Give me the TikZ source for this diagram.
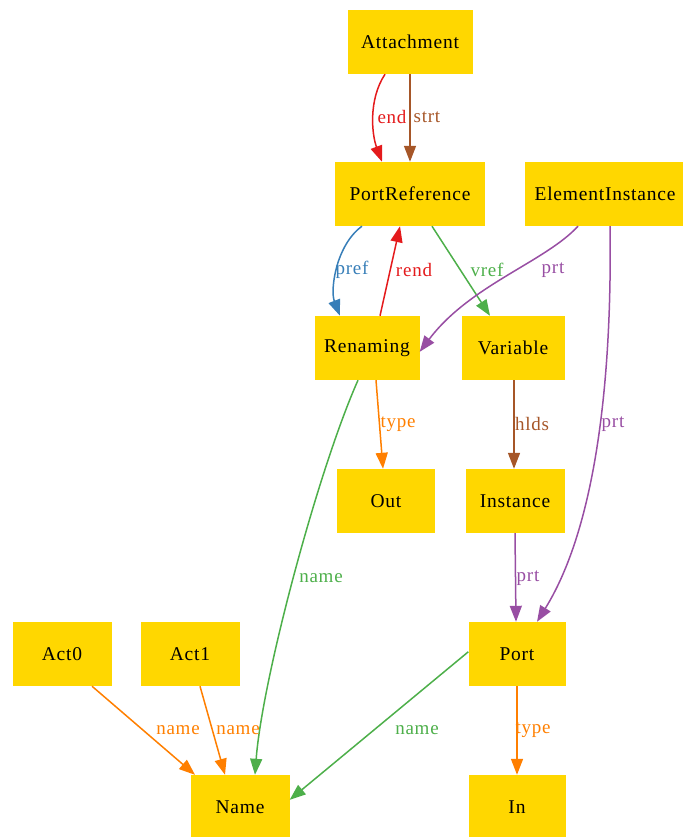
\documentclass[tikz,border=0pt]{standalone}
\usepackage{fontspec}
\setmainfont{Liberation Serif}[LetterSpace=4]
\usetikzlibrary{arrows.meta}
\definecolor{gold}{RGB}{255,215,0}
\definecolor{cred}{RGB}{228,26,28}
\definecolor{cbrown}{RGB}{166,86,40}
\definecolor{cblue}{RGB}{55,126,184}
\definecolor{cgreen}{RGB}{77,175,74}
\definecolor{cpurple}{RGB}{152,78,163}
\definecolor{corange}{RGB}{255,127,0}
\begin{document}
\begin{tikzpicture}[x=1pt,y=-1pt,
  box/.style={rectangle, fill=gold, minimum height=64pt, minimum width=100pt, inner sep=0pt, font=\fontsize{19.5}{22}\selectfont},
  lbl/.style={font=\fontsize{19}{22}\selectfont, inner sep=0pt},
  edge/.style={line width=1.5pt, -{Triangle[length=16pt,width=12pt]}}]
\useasboundingbox (0,0) rectangle (682,837);
% nodes
\node[box, minimum width=125pt] (att) at (410,42) {Attachment};
\node[box, minimum width=150pt] (pref) at (410,194) {PortReference};
\node[box, minimum width=160pt] (ei) at (605,194) {ElementInstance};
\node[box, minimum width=105pt] (ren) at (367,348) {Renaming};
\node[box, minimum width=103pt] (var) at (513,348) {Variable};
\node[box, minimum width=98pt] (out) at (386,501) {Out};
\node[box, minimum width=99pt] (inst) at (515,501) {Instance};
\node[box, minimum width=97pt] (port) at (517,654) {Port};
\node[box, minimum width=99pt] (act0) at (62,654) {Act0};
\node[box, minimum width=99pt] (act1) at (190,654) {Act1};
\node[box, minimum width=99pt] (name) at (240,807) {Name};
\node[box, minimum width=97pt] (in) at (517,807) {In};
% edges
\draw[edge, cred] ([xshift=-25pt]att.south) .. controls (368,100) and (372,135) .. ([xshift=-28pt]pref.north);
\draw[edge, cbrown] (att.south) -- (pref.north);
\draw[edge, cblue] ([xshift=-48pt]pref.south) .. controls (336,245) and (330,290) .. ([xshift=-27pt]ren.north);
\draw[edge, cred] ([xshift=13pt]ren.north) -- ([xshift=-10pt]pref.south);
\draw[edge, cgreen] ([xshift=22pt]pref.south) -- ([xshift=-23pt]var.north);
\draw[edge, cpurple] ([xshift=-27pt]ei.south) .. controls (545,262) and (470,285) .. ([yshift=-36pt]ren.north east);
\draw[edge, cpurple] ([xshift=5pt]ei.south) .. controls (612,360) and (600,520) .. ([xshift=20pt]port.north);
\draw[edge, cbrown] ([xshift=1pt]var.south) -- ([xshift=-1pt]inst.north);
\draw[edge, corange] ([xshift=9pt]ren.south) -- ([xshift=-3pt]out.north);
\draw[edge, cgreen] ([xshift=-9pt]ren.south) .. controls (318,470) and (262,680) .. ([xshift=15pt]name.north);
\draw[edge, cpurple] (inst.south) -- ([xshift=-1pt]port.north);
\draw[edge, corange] ([xshift=30pt]act0.south) -- ([xshift=-45pt]name.north);
\draw[edge, corange] ([xshift=10pt]act1.south) -- ([xshift=-15pt]name.north);
\draw[edge, cgreen] ([yshift=-30pt]port.north west) -- ([yshift=-25pt]name.north east);
\draw[edge, corange] (port.south) -- (in.north);
% labels
\node[lbl, text=cred] (l1) at (392,117) {end};
\node[lbl, text=cbrown] (l2) at (427,117) {strt};
\node[lbl, text=cblue] (l3) at (352,270) {pref};
\node[lbl, text=cred] (l4) at (414,270) {rend};
\node[lbl, text=cgreen] (l5) at (487,270) {vref};
\node[lbl, text=cpurple] (l6) at (553,270) {prt};
\node[lbl, text=corange] (l7) at (398,424) {type};
\node[lbl, text=cbrown] (l8) at (532,424) {hlds};
\node[lbl, text=cpurple] (l9) at (613,424) {prt};
\node[lbl, text=cgreen] (l10) at (321,578) {name};
\node[lbl, text=cpurple] (l11) at (528,578) {prt};
\node[lbl, text=corange] (l12) at (178,730) {name};
\node[lbl, text=corange] (l13) at (238,730) {name};
\node[lbl, text=cgreen] (l14) at (417,730) {name};
\node[lbl, text=corange] (l15) at (533,730) {type};
\end{tikzpicture}
\end{document}
